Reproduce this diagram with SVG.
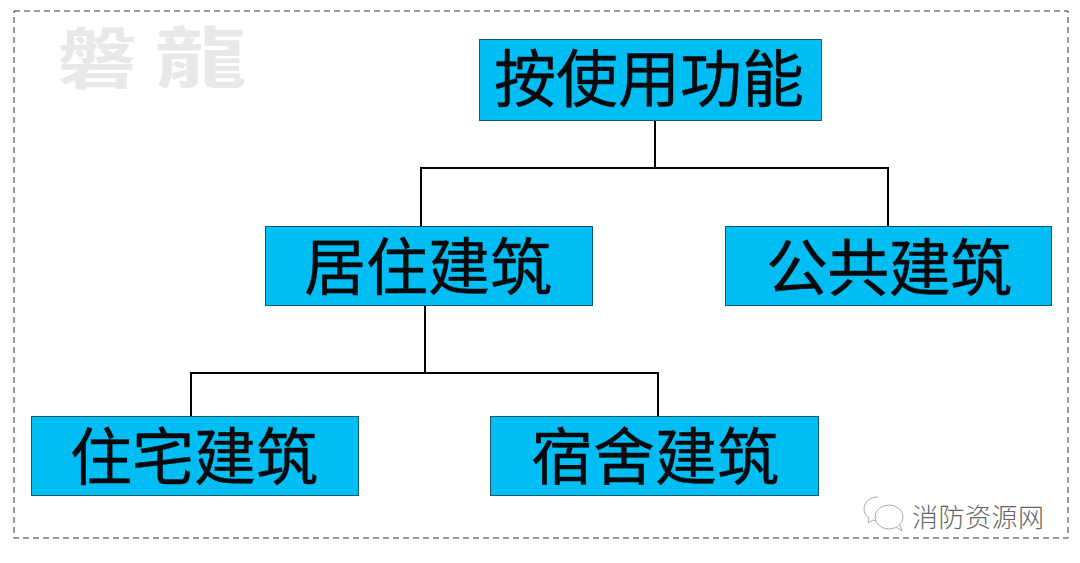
<svg xmlns="http://www.w3.org/2000/svg" width="1080" height="563" viewBox="0 0 1080 563">
<style>
.box{fill:#00bef4;stroke:#0b5a70;stroke-width:1}
.lab{font-family:"Noto Sans CJK SC",sans-serif;fill:#07090c;text-anchor:middle;dominant-baseline:central;font-size:62px;stroke:#07090c;stroke-width:.4}
.con{fill:none;stroke:#000;stroke-width:2}
.wm{font-family:"Noto Sans CJK TC",sans-serif;font-size:66px;font-weight:700;fill:#e8e8e8;text-anchor:middle;dominant-baseline:central}
</style>
<rect width="1080" height="563" fill="#fff"/>
<rect x="14" y="11" width="1054" height="527" fill="none" stroke="#333" stroke-width="1" stroke-dasharray="6 4"/>
<g id="watermark">
<text class="wm" transform="translate(97 54) scale(1.2 1)">磐</text>
<text class="wm" transform="translate(201 53) scale(1.4 1)">龍</text>
</g>
<g id="connectors" class="con">
<path d="M655 121V168M421 226V168H888V226"/>
<path d="M425 306V373M191 416V373H658V416"/>
</g>
<g id="n1"><rect class="box" x="479.500" y="39.500" width="342" height="81"/><text class="lab" x="649" y="75" textLength="310">按使用功能</text></g>
<g id="n2"><rect class="box" x="265.500" y="226.500" width="327" height="79"/><text class="lab" x="428" y="263" textLength="248">居住建筑</text></g>
<g id="n3"><rect class="box" x="725.500" y="226.500" width="326" height="79"/><text class="lab" x="889" y="264" textLength="246">公共建筑</text></g>
<g id="n4"><rect class="box" x="31.500" y="416.500" width="327" height="79"/><text class="lab" x="194" y="453" textLength="248">住宅建筑</text></g>
<g id="n5"><rect class="box" x="490.500" y="416.500" width="328" height="79"/><text class="lab" x="655" y="453" textLength="248">宿舍建筑</text></g>
<text id="mark" x="978" y="515" font-family="'Noto Sans CJK SC',sans-serif" font-size="26" font-weight="300" fill="#666" text-anchor="middle" dominant-baseline="central" textLength="132">消防资源网</text>
<g id="wechat" fill="#fff" stroke="#aaa" stroke-width="1">
<path d="M878 497c-8 0-14 5-14 12 0 4 2 7 5 9l-1 5 5-3c2 1 4 1 6 1"/>
<ellipse cx="889" cy="517" rx="14" ry="12"/>
<path d="M896 527l6 4-2-6"/>
</g>
</svg>
